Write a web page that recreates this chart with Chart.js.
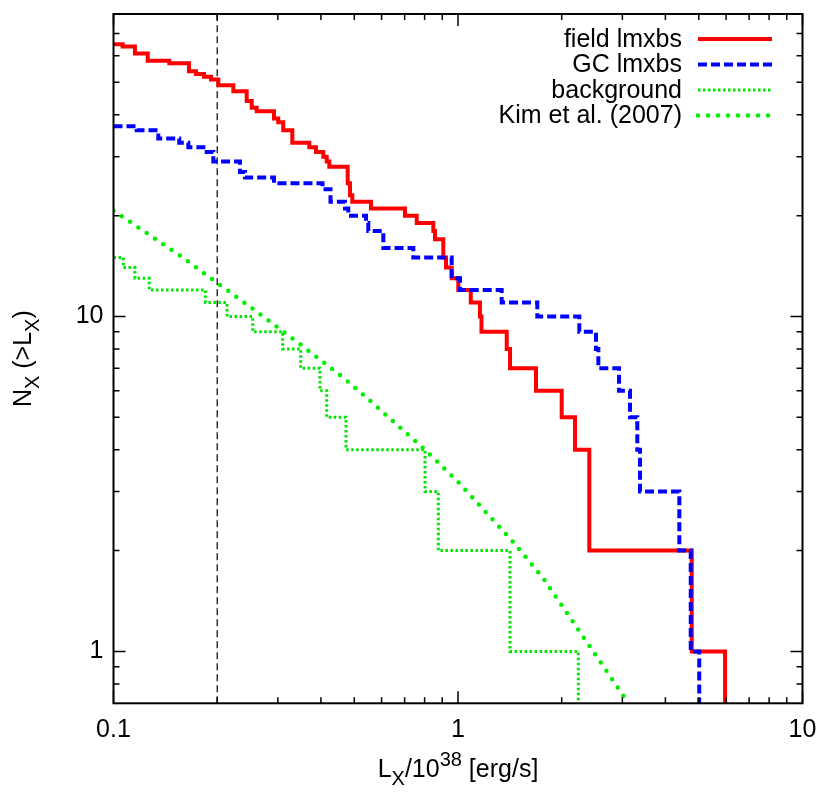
<!DOCTYPE html>
<html>
<head>
<meta charset="utf-8">
<script src="https://cdn.jsdelivr.net/npm/chart.js@4"></script>
<style>
  body { margin: 0; background: #fff; }
  #wrap { width: 830px; height: 796px; }
</style>
</head>
<body>
<div id="wrap"><canvas id="myChart" width="830" height="796"></canvas></div>
<script>
// cumulative counts N(>L), L in units of 1e38 erg/s
const fieldL = [0.1, 0.1063, 0.1154, 0.1257, 0.1452, 0.1656, 0.1735, 0.1831, 0.1919, 0.2015,
  0.2228, 0.2436, 0.2519, 0.2604, 0.2923, 0.3008, 0.3110, 0.3304, 0.3701, 0.3870,
  0.4064, 0.4158, 0.4231, 0.4784, 0.4858, 0.4934, 0.5590, 0.7017, 0.7590, 0.8479,
  0.8575, 0.9064, 0.9230, 0.9587, 1.002, 1.089, 1.158, 1.170, 1.385, 1.416,
  1.684, 2.0, 2.186, 2.405, 4.77, 5.96];
const fieldN = [65, 64, 61, 58, 57, 54, 53, 52, 51, 49,
  47, 44, 42, 41, 39, 38, 36, 33, 32, 31,
  30, 29, 28, 25, 23, 22, 21, 20, 19, 18,
  17, 15, 14, 13, 12, 11, 10, 9, 8, 7,
  6, 5, 4, 2, 1, 0.5];

const gcL = [0.1, 0.1168, 0.1349, 0.1552, 0.1649, 0.1864, 0.1949, 0.2329, 0.2408, 0.2923,
  0.4043, 0.4265, 0.4699, 0.4803, 0.5408, 0.5491, 0.6071, 0.7419, 0.9587, 1.0134,
  1.339, 1.699, 2.250, 2.515, 2.555, 2.934, 3.157, 3.315, 3.376, 4.390,
  4.738, 5.015];
const gcN = [37, 36, 34, 33, 32, 31, 29, 27, 26, 25,
  24, 22, 21, 20, 19, 18, 16, 15, 13, 12,
  11, 10, 9, 8, 7, 6, 5, 4, 3, 2,
  1, 0.5];

const bgL = [0.1, 0.1068, 0.1154, 0.1270, 0.1849, 0.2136, 0.2536, 0.3097, 0.3494, 0.3975,
  0.4158, 0.4730, 0.8021, 0.8766, 1.416, 2.235];
const bgN = [15, 14, 13, 12, 11, 10, 9, 8, 7, 6,
  5, 4, 3, 2, 1, 0.5];

const kimL = [0.1, 0.156, 0.2, 0.25, 0.342, 0.468, 0.568, 0.802, 1.0, 1.43, 1.77, 2.21, 3.05];
const kimN = [20.7, 15.2, 12.6, 10.66, 8.38, 6.53, 5.49, 4.0, 3.21, 2.15, 1.65, 1.18, 0.727];

const cutL = 0.2;

const xLabels = [0.1, 1, 10];
const yLabels = [1, 10];
const xMinor = [0.2, 0.3, 0.4, 0.5, 0.6, 0.7, 0.8, 0.9, 2, 3, 4, 5, 6, 7, 8, 9];
const yMinor = [0.8, 0.9, 2, 3, 4, 5, 6, 7, 8, 9, 20, 30, 40, 50, 60, 70];

const names = ['field lmxbs', 'GC lmxbs', 'background', 'Kim et al. (2007)'];

const FONT = "'Liberation Sans', Arial, Helvetica, sans-serif";

function pts(xs, ys) {
  return xs.map((v, i) => ({x: v, y: ys[i]}));
}

// gnuplot style frame with inward ticks on all sides
const frame = {
  id: 'frame',
  afterDraw(chart) {
    const {ctx, chartArea: a, scales: {x, y}} = chart;
    ctx.save();
    ctx.strokeStyle = '#000';
    ctx.lineWidth = 1.5;
    ctx.beginPath();
    const xt = (v, len) => {
      const p = x.getPixelForValue(v);
      ctx.moveTo(p, a.bottom); ctx.lineTo(p, a.bottom - len);
      ctx.moveTo(p, a.top); ctx.lineTo(p, a.top + len);
    };
    const yt = (v, len) => {
      const p = y.getPixelForValue(v);
      ctx.moveTo(a.left, p); ctx.lineTo(a.left + len, p);
      ctx.moveTo(a.right, p); ctx.lineTo(a.right - len, p);
    };
    xLabels.forEach(v => xt(v, 12));
    xMinor.forEach(v => xt(v, 6));
    yLabels.forEach(v => yt(v, 12));
    yMinor.forEach(v => yt(v, 6));
    ctx.stroke();
    ctx.lineWidth = 2;
    ctx.strokeRect(a.left, a.top, a.right - a.left, a.bottom - a.top);
    ctx.restore();
  }
};

// draws text made of pieces, some sub/superscripted
function richText(ctx, parts, size) {
  let w = 0;
  parts.forEach(p => {
    ctx.font = (p.sub || p.sup ? size * 0.8 : size) + 'px ' + FONT;
    p.w = ctx.measureText(p.t).width;
    w += p.w;
  });
  let cx = -w / 2;
  parts.forEach(p => {
    ctx.font = (p.sub || p.sup ? size * 0.8 : size) + 'px ' + FONT;
    let dy = 0;
    if (p.sub) dy = size * 0.3;
    if (p.sup) dy = -size * 0.45;
    ctx.fillText(p.t, cx, dy);
    cx += p.w;
  });
}

const titles = {
  id: 'titles',
  afterDraw(chart) {
    const {ctx, chartArea: a} = chart;
    ctx.save();
    ctx.fillStyle = '#000';
    ctx.textBaseline = 'alphabetic';
    ctx.textAlign = 'left';
    ctx.save();
    ctx.translate((a.left + a.right) / 2, 777);
    richText(ctx, [{t: 'L'}, {t: 'X', sub: true}, {t: '/10'}, {t: '38', sup: true}, {t: ' [erg/s]'}], 25);
    ctx.restore();
    ctx.save();
    ctx.translate(31, (a.top + a.bottom) / 2);
    ctx.rotate(-Math.PI / 2);
    richText(ctx, [{t: 'N'}, {t: 'X', sub: true}, {t: ' (>L'}, {t: 'X', sub: true}, {t: ')'}], 25);
    ctx.restore();
    ctx.restore();
  }
};

const keyBox = {
  id: 'keyBox',
  afterDraw(chart) {
    const ctx = chart.ctx;
    ctx.save();
    names.forEach((n, i) => {
      const ds = chart.data.datasets[i];
      const yy = 39 + i * 25.5;
      ctx.fillStyle = '#000';
      ctx.font = '25px ' + FONT;
      ctx.textAlign = 'right';
      ctx.textBaseline = 'middle';
      ctx.fillText(n, 682, yy + 1);
      ctx.strokeStyle = ds.borderColor;
      ctx.lineWidth = ds.borderWidth;
      ctx.lineCap = ds.borderCapStyle || 'butt';
      ctx.setLineDash(ds.borderDash || []);
      ctx.beginPath();
      ctx.moveTo(698, yy);
      ctx.lineTo(772, yy);
      ctx.stroke();
    });
    ctx.restore();
  }
};

const ctx = document.getElementById('myChart').getContext('2d');

const myChart = new Chart(ctx, {
  type: 'line',
  data: {
    datasets: [
      {
        label: names[0], data: pts(fieldL, fieldN), stepped: 'before',
        borderColor: '#ff0000', borderWidth: 4, pointRadius: 0, order: 4
      },
      {
        label: names[1], data: pts(gcL, gcN), stepped: 'before',
        borderColor: '#0000ff', borderWidth: 4, borderDash: [9, 4], pointRadius: 0, order: 3
      },
      {
        label: names[2], data: pts(bgL, bgN), stepped: 'before',
        borderColor: '#00e600', borderWidth: 3, borderDash: [2.5, 2.5], pointRadius: 0, order: 2
      },
      {
        label: names[3], data: pts(kimL, kimN),
        borderColor: '#00ee00', borderWidth: 4.5, borderDash: [0, 10], borderCapStyle: 'round',
        pointRadius: 0, order: 1
      },
      {
        label: 'cut', data: [{x: cutL, y: 0.7}, {x: cutL, y: 80}],
        borderColor: '#000', borderWidth: 1.2, borderDash: [7, 4], pointRadius: 0, order: 5
      }
    ]
  },
  options: {
    responsive: false,
    animation: false,
    devicePixelRatio: 1,
    layout: { padding: { top: 14, right: 27.5, left: 0, bottom: 0 } },
    plugins: {
      legend: { display: false },
      tooltip: { enabled: false }
    },
    scales: {
      x: {
        type: 'logarithmic', min: 0.1, max: 10, bounds: 'data',
        grid: { display: false, drawTicks: false },
        border: { display: false },
        ticks: {
          color: '#000', font: { family: FONT, size: 25 }, padding: 12,
          maxRotation: 0, autoSkip: false, callback: v => String(v)
        },
        afterBuildTicks: s => { s.ticks = xLabels.map(v => ({value: v})); },
        afterFit: s => { s.height = 92.7; s.paddingLeft = 0; s.paddingRight = 0; }
      },
      y: {
        type: 'logarithmic', min: 0.7, max: 80, bounds: 'data',
        grid: { display: false, drawTicks: false },
        border: { display: false },
        ticks: {
          color: '#000', font: { family: FONT, size: 25 }, padding: 10,
          autoSkip: false, callback: v => String(v)
        },
        afterBuildTicks: s => { s.ticks = yLabels.map(v => ({value: v})); },
        afterFit: s => { s.width = 113.5; s.paddingTop = 0; s.paddingBottom = 0; }
      }
    }
  },
  plugins: [frame, titles, keyBox]
});
</script>
</body>
</html>
